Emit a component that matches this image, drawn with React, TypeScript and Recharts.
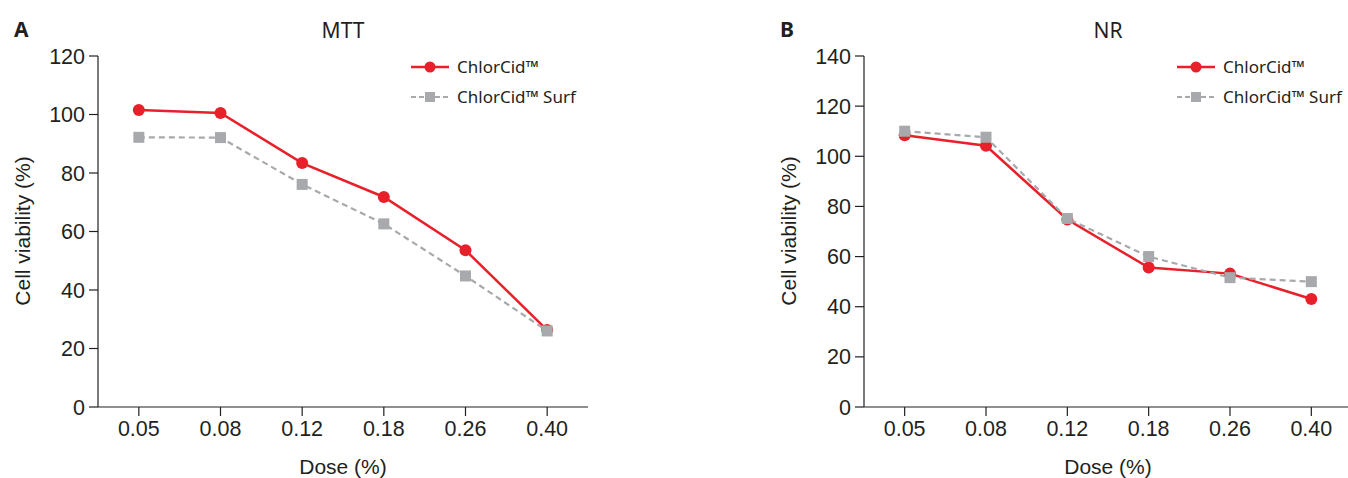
import React from "react";
import { LineChart, Line, XAxis, YAxis } from "recharts";

const doses = ["0.05", "0.08", "0.12", "0.18", "0.26", "0.40"];
const mttChlorCid = [101.5, 100.5, 83.4, 71.8, 53.6, 26.3];
const mttSurf = [92.2, 92.1, 76.1, 62.6, 44.8, 26.0];
const nrChlorCid = [108.4, 104.2, 74.8, 55.6, 53.2, 43.1];
const nrSurf = [110.0, 107.6, 75.2, 60.0, 51.6, 50.0];
const mttTicks = [0, 20, 40, 60, 80, 100, 120];
const nrTicks = [0, 20, 40, 60, 80, 100, 120, 140];

const RED = "#e8202a";
const GREY = "#a7a9ac";
const AXIS = "#231f20";
const TICK_FONT = "'Liberation Sans', Arial, sans-serif";
const TEXT_FONT = "'Noto Sans', 'Open Sans', sans-serif";

const SquareDot = (props: any) => {
  const { cx, cy, index } = props;
  if (cx == null || cy == null) return null;
  return <rect key={`sq-${index}`} x={cx - 5.5} y={cy - 5.5} width={11} height={11} fill={GREY} />;
};

const LegendBox = ({ left, top }: any) => (
  <div style={{ position: "absolute", left, top, fontFamily: TEXT_FONT, fontSize: 17, color: "#231f20", lineHeight: "30px" }}>
    <div style={{ display: "flex", alignItems: "center" }}>
      <svg width={40} height={14} style={{ marginRight: 7 }}>
        <line x1={1} x2={39} y1={7} y2={7} stroke={RED} strokeWidth={2.5} />
        <circle cx={20} cy={7} r={5.5} fill={RED} />
      </svg>
      ChlorCid™
    </div>
    <div style={{ display: "flex", alignItems: "center" }}>
      <svg width={40} height={14} style={{ marginRight: 7 }}>
        <line x1={1} x2={39} y1={7} y2={7} stroke={GREY} strokeWidth={2.2} strokeDasharray="5 3" />
        <rect x={15} y={2} width={10} height={10} fill={GREY} />
      </svg>
      ChlorCid™ Surf
    </div>
  </div>
);

function makeData(a: number[], b: number[]) {
  return doses.map((d, i) => ({ dose: d, chlor: a[i], surf: b[i] }));
}

const Panel = ({ left, letter, title, a, b, max, ticks, width, rightMargin }: any) => {
  const data = makeData(a, b);
  const plotW = width - 98 - rightMargin;
  const pad = plotW / 12;
  return (
    <div style={{ position: "absolute", left, top: 0, width, height: 478 }}>
      <LineChart width={width} height={478} data={data} margin={{ top: 56, right: rightMargin, bottom: 0, left: 0 }}>
        <XAxis
          dataKey="dose"
          height={71}
          padding={{ left: pad, right: pad }}
          axisLine={{ stroke: AXIS, strokeWidth: 1.2 }}
          tickLine={{ stroke: AXIS, strokeWidth: 1.2 }}
          tickSize={9}
          tick={{ fill: "#231f20", fontSize: 21.5, fontFamily: TICK_FONT }}
          tickMargin={5}
        />
        <YAxis
          width={98}
          domain={[0, max]}
          ticks={ticks}
          interval={0}
          axisLine={{ stroke: AXIS, strokeWidth: 1.2 }}
          tickLine={{ stroke: AXIS, strokeWidth: 1.2 }}
          tickSize={9}
          tick={{ fill: "#231f20", fontSize: 21.5, fontFamily: TICK_FONT }}
          tickMargin={4}
        />
        <Line dataKey="chlor" stroke={RED} strokeWidth={2.5} dot={{ r: 6, fill: RED, stroke: RED, strokeWidth: 0 }} isAnimationActive={false} />
        <Line dataKey="surf" stroke={GREY} strokeWidth={2.2} strokeDasharray="6 4" dot={<SquareDot />} isAnimationActive={false} />
      </LineChart>
      <LegendBox left={410} top={52} />
      <div style={{ position: "absolute", left: 14, top: 15, fontFamily: TEXT_FONT, fontWeight: 700, fontSize: 21, color: "#231f20" }}>{letter}</div>
      <div style={{ position: "absolute", left: 98 + plotW / 2, top: 30, transform: "translate(-50%,-50%)", fontFamily: TEXT_FONT, fontSize: 21, color: "#231f20" }}>{title}</div>
      <div style={{ position: "absolute", left: 98 + plotW / 2, top: 467, transform: "translate(-50%,-50%)", fontFamily: TICK_FONT, fontSize: 21, color: "#231f20", whiteSpace: "nowrap" }}>Dose (%)</div>
      <div style={{ position: "absolute", left: 23, top: 231, transform: "translate(-50%,-50%) rotate(-90deg)", fontFamily: TICK_FONT, fontSize: 21, color: "#231f20", whiteSpace: "nowrap" }}>Cell viability (%)</div>
    </div>
  );
};

export default function App() {
  return (
    <div style={{ position: "absolute", left: 0, top: 0, width: 1348, height: 478, overflow: "hidden", background: "#fff" }}>
      <Panel left={0} letter="A" title="MTT" a={mttChlorCid} b={mttSurf} max={120} ticks={mttTicks} width={674} rightMargin={86} />
      <Panel left={766} letter="B" title="NR" a={nrChlorCid} b={nrSurf} max={140} ticks={nrTicks} width={586} rightMargin={0} />
    </div>
  );
}
